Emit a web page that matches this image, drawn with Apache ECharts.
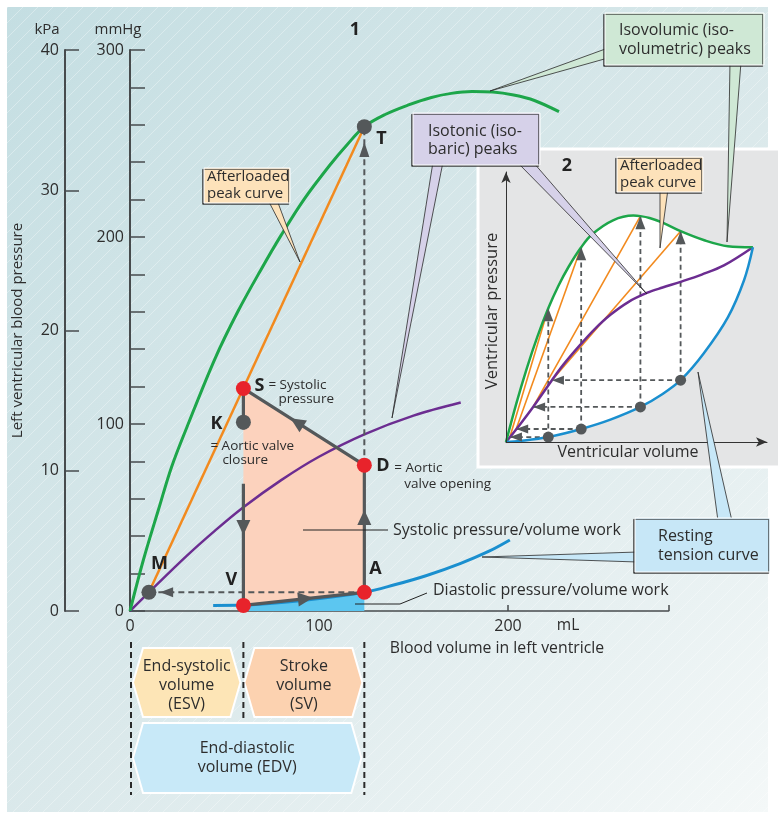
<!DOCTYPE html>
<html>
<head>
<meta charset="utf-8">
<script src="https://cdn.jsdelivr.net/npm/echarts@6/dist/echarts.min.js"></script>
<style>
    *{margin:0;padding:0;}
    body{background:#fff;overflow:hidden;}
    #chart{width:778px;height:817px;}
</style>
</head>
<body>
<div id="chart"></div>
<script>
// ---- panel 1: blood volume (mL) vs pressure (mmHg) ----
const isovolumicPeaks = [[0,0],[7,27],[15,54],[22,77],[30,98],[45,135],[57,160],[69,182],[80,201],[92,220],[105.8,238.5],[115,249.5],[124,259],[135,265.5],[147,270.5],[159,274.5],[170,276.8],[181,277.8],[192,277.5],[203,275.9],[214,273],[227,267]];
const afterloadedPeaks = [[10,10],[124,259]];
const isotonicPeaks = [[0,0],[10,10],[30,29.5],[45,43],[60,55.5],[80,70],[100,82.5],[124,94.5],[150,104.5],[175,111.5]];
const restingTension = [[44,3],[60,3.2],[90,5.5],[124,10],[140,14],[157,19],[175,25.5],[190,32],[201,38]];
const ptV = [60,3], ptA = [124,10], ptD = [124,78], ptS = [60,119];
const ptK = [60,101], ptM = [10,10], ptT = [124,259];
const closureGap = [97,68];          // mmHg where the S-V line is broken
const mmHgTicks = [0,100,200,300];
const kPaTicks = [0,10,20,30,40];
const volumeTicks = [0,100,200];

// ---- panel 2: relative units ----
const insetGreen = [[0,0],[4,15],[8,28.5],[12,40.5],[16.2,51.5],[20,60],[24,67.5],[28.8,75],[33,80],[41,85.4],[48.8,87.2],[51.5,87],[55,86.3],[60,84.5],[66.9,81.2],[76,77.7],[85,75.4],[94.6,75]];
const insetPurple = [[0,0],[5,6.3],[10.4,13.5],[17.6,23.8],[22,29.8],[28.5,37.5],[34,43.5],[40,49],[47,54],[54.2,57.5],[60,59.5],[66.9,61.7],[75,64.5],[83.5,68],[94.6,75]];
const insetBlue = [[0,0],[5.4,0.4],[16.2,1.9],[28.8,5],[40,8.6],[51.5,13.5],[60,18.5],[66.9,23.8],[75.8,34.2],[85,48],[91.2,62.3],[94.6,75]];
const insetDots = [[16.2,1.9],[28.8,5],[51.5,13.5],[66.9,23.8]];
const insetIso = [[1.5,1.9],[3.9,5],[10.4,13.5],[17.6,23.8]];
const insetPeaks = [[16.2,51.5],[28.8,75],[51.5,87],[66.9,81.2]];

const FONT = '"Open Sans", "Noto Sans", sans-serif';
const C = {
    green:'#1da64a', orange:'#f28a1e', purple:'#6c2d91', blue:'#1a8fcf',
    gray:'#54585a', red:'#e8232b', pink:'#fcd2bd', dia:'#5cc6f0', text:'#2d2d2d'
};

// arrowheads: from, to, tip position along the segment
const mainArrows = [
    {from:ptV, to:ptA, tip:0.575, L:15, W:7},
    {from:ptA, to:ptD, tip:0.647, L:15, W:7},
    {from:ptD, to:ptS, tip:0.61, L:15, W:7},
    {from:ptS, to:ptV, tip:0.676, L:15, W:7},
    {from:ptA, to:ptM, tip:0.948, L:13, W:5},
    {from:ptD, to:ptT, tip:0.955, L:15, W:5}
];
const insetArrows = [];
insetDots.forEach((d,i)=>{
    insetArrows.push({from:d, to:insetPeaks[i], tip:1, L:13, W:5});
    insetArrows.push({from:d, to:insetIso[i], tip:1, L:12, W:4.5});
});

function arrowItem(params, api){
    const a = api.coord([api.value(0), api.value(1)]);
    const b = api.coord([api.value(2), api.value(3)]);
    const t = api.value(4), L = api.value(5), W = api.value(6);
    const dx = b[0]-a[0], dy = b[1]-a[1], len = Math.hypot(dx,dy) || 1;
    const ux = dx/len, uy = dy/len;
    const tip = [a[0]+dx*t, a[1]+dy*t];
    const bx = tip[0]-ux*L, by = tip[1]-uy*L;
    return {type:'polygon', shape:{points:[tip,[bx-uy*W, by+ux*W],[bx+uy*W, by-ux*W]]}, style:{fill:C.gray}};
}
function polygonItem(points, fill){
    return function(params, api){
        return {type:'polygon', shape:{points:points.map(p=>api.coord(p))}, style:{fill:fill}};
    };
}
function seg(data, color, width, dash, ax){
    return {type:'line', xAxisIndex:ax[0], yAxisIndex:ax[1], data:data, symbol:'none', silent:true,
        lineStyle:{color:color, width:width, type: dash || 'solid'}};
}
function curve(data, color, width, ax){
    return {type:'line', xAxisIndex:ax[0], yAxisIndex:ax[1], data:data, smooth:0.35, symbol:'none', silent:true,
        lineStyle:{color:color, width:width}};
}
const MAIN = [0,0], INS = [1,2];

const series = [
    {type:'custom', xAxisIndex:0, yAxisIndex:0, z:1, data:[[60,60]], renderItem:polygonItem([ptV,ptA,ptD,ptS], C.pink), silent:true},
    {type:'line', xAxisIndex:0, yAxisIndex:0, z:1, data:restingTension.filter(p=>p[0]>=ptV[0] && p[0]<=ptA[0]),
        smooth:0.35, symbol:'none', lineStyle:{width:0}, areaStyle:{color:C.dia, opacity:1}, silent:true},
    curve(isotonicPeaks, C.purple, 2.5, MAIN),
    seg(afterloadedPeaks, C.orange, 2.5, null, MAIN),
    curve(isovolumicPeaks, C.green, 3, MAIN),
    curve(restingTension, C.blue, 3, MAIN),
    seg([[ptV[0],closureGap[1]], ptV, ptA, ptD, ptS, [ptS[0],closureGap[0]]], C.gray, 3.2, null, MAIN),
    seg([ptA, ptM], C.gray, 2, [6,4], MAIN),
    seg([ptD, ptT], C.gray, 2, [6,4], MAIN),
    {type:'custom', xAxisIndex:0, yAxisIndex:0, z:4, renderItem:arrowItem, silent:true,
        data:mainArrows.map(a=>[a.from[0],a.from[1],a.to[0],a.to[1],a.tip,a.L,a.W])},
    {type:'scatter', xAxisIndex:0, yAxisIndex:0, z:6, data:[ptS,ptD,ptA,ptV], symbolSize:15, itemStyle:{color:C.red, opacity:1}, silent:true},
    {type:'scatter', xAxisIndex:0, yAxisIndex:0, z:6, data:[ptM,ptK,ptT], symbolSize:15, itemStyle:{color:C.gray, opacity:1}, silent:true},

    // inset
    {type:'custom', xAxisIndex:1, yAxisIndex:2, z:1, data:[[50,50]], renderItem:polygonItem(insetGreen.concat(insetBlue.slice().reverse()), '#ffffff'), silent:true}
];
insetIso.forEach((p,i)=>series.push(seg([p, insetPeaks[i]], C.orange, 1.6, null, INS)));
insetDots.forEach((d,i)=>{
    series.push(seg([d, insetPeaks[i]], C.gray, 1.8, [5,3.5], INS));
    series.push(seg([d, insetIso[i]], C.gray, 1.8, [5,3.5], INS));
});
series.push(curve(insetPurple, C.purple, 2.5, INS));
series.push(curve(insetGreen, C.green, 2.5, INS));
series.push(curve(insetBlue, C.blue, 2.5, INS));
series.push({type:'custom', xAxisIndex:1, yAxisIndex:2, z:4, renderItem:arrowItem, silent:true,
    data:insetArrows.map(a=>[a.from[0],a.from[1],a.to[0],a.to[1],a.tip,a.L,a.W])});
series.push({type:'scatter', xAxisIndex:1, yAxisIndex:2, z:6, data:insetDots, symbolSize:11, itemStyle:{color:C.gray, opacity:1}, silent:true});

const axisCol = '#474b4d';
const option = {
    animation:false,
    grid:[
        {left:130, top:50, width:538.6, height:561, outerBoundsMode:'none'},
        {left:506, top:172, width:261, height:270, outerBoundsMode:'none'}
    ],
    xAxis:[
        {gridIndex:0, type:'value', min:0, max:285, interval:100,
            axisLine:{lineStyle:{color:axisCol, width:1.6}},
            axisTick:{inside:true, length:6, lineStyle:{color:axisCol, width:1.5}},
            axisLabel:{fontSize:16, color:C.text, fontFamily:FONT, margin:7,
                formatter:v=>volumeTicks.indexOf(v)>=0 ? String(v) : ''},
            splitLine:{show:false}},
        {gridIndex:1, type:'value', min:0, max:100, z:10,
            axisLine:{symbol:['none','arrow'], symbolSize:[7,11], lineStyle:{color:'#333', width:1}},
            axisTick:{show:false}, axisLabel:{show:false}, splitLine:{show:false}}
    ],
    yAxis:[
        {gridIndex:0, type:'value', min:0, max:300, interval:20, position:'left',
            axisLine:{show:true, lineStyle:{color:axisCol, width:2}},
            axisTick:{show:true, inside:true, length:15, lineStyle:{color:axisCol, width:1.5}},
            axisLabel:{fontSize:16, color:C.text, fontFamily:FONT, margin:6,
                formatter:v=>mmHgTicks.indexOf(v)>=0 ? String(v) : ''},
            splitLine:{show:false}},
        {gridIndex:0, type:'value', min:0, max:40, interval:10, position:'left', offset:65,
            name:'Left ventricular blood pressure', nameLocation:'middle', nameGap:40, nameRotate:90,
            nameTextStyle:{fontSize:15, color:C.text, fontFamily:FONT},
            axisLine:{show:true, lineStyle:{color:axisCol, width:2}},
            axisTick:{show:true, inside:true, length:14, lineStyle:{color:axisCol, width:1.5}},
            axisLabel:{fontSize:16, color:C.text, fontFamily:FONT, margin:6,
                formatter:v=>kPaTicks.indexOf(v)>=0 ? String(v) : ''},
            splitLine:{show:false}},
        {gridIndex:1, type:'value', min:0, max:104, z:10,
            axisLine:{show:true, symbol:['none','arrow'], symbolSize:[7,11], lineStyle:{color:'#333', width:1}},
            axisTick:{show:false}, axisLabel:{show:false}, splitLine:{show:false}}
    ],
    series:series
};

const chart = echarts.init(document.getElementById('chart'));
chart.setOption(option);

// ---- annotations ----
const P = p => chart.convertToPixel({xAxisIndex:0, yAxisIndex:0}, p);

function txt(x, y, s, size, opt){
    return {type:'text', x:x, y:y, z:100, silent:true,
        style:Object.assign({text:s, font:size+'px '+FONT, fill:C.text,
            textAlign:'left', textVerticalAlign:'middle', align:'left', verticalAlign:'middle'}, opt||{})};
}
function ctxt(x, y, s, size){
    return txt(x, y, s, size, {textAlign:'center', align:'center'});
}
function bold(x, y, s, size, align){
    return txt(x, y, s, size, {font:'bold '+size+'px '+FONT, fill:'#222',
        textAlign:align||'left', align:align||'left'});
}
function box(x, y, w, h, fill){
    return {type:'rect', z:52, silent:true, shape:{x:x, y:y, width:w, height:h},
        style:{fill:fill, stroke:'#ffffff', lineWidth:1, shadowColor:'rgba(40,40,40,0.75)', shadowOffsetX:-1.3, shadowOffsetY:1.3, shadowBlur:0}};
}
function wedge(b1, b2, tip, fill){
    return {type:'polygon', z:50, silent:true, shape:{points:[b1, tip, b2]},
        style:{fill:fill, stroke:'#2a2a2a', lineWidth:0.8}};
}
function hexShape(x0, x1, y0, y1, fill){
    const ym = (y0+y1)/2, k = 10;
    return {type:'polygon', z:20, silent:true,
        shape:{points:[[x0,ym],[x0+k,y0],[x1-k,y0],[x1,ym],[x1-k,y1],[x0+k,y1]]},
        style:{fill:fill, stroke:'#ffffff', lineWidth:2}};
}
function vdash(x, y0, y1){
    return {type:'line', z:21, silent:true, shape:{x1:x, y1:y0, x2:x, y2:y1},
        style:{stroke:'#2a2a2a', lineWidth:2, lineDash:[6,4]}};
}

const hatch = document.createElement('canvas');
hatch.width = 15; hatch.height = 15;
const hc = hatch.getContext('2d');
hc.strokeStyle = 'rgba(255,255,255,0.32)';
hc.lineWidth = 1;
hc.beginPath(); hc.moveTo(-1,16); hc.lineTo(16,-1); hc.stroke();

const pS = P(ptS), pK = P(ptK), pD = P(ptD), pT = P(ptT), pM = P(ptM), pV = P(ptV), pA = P(ptA), p0 = P([0,0]);
const boxGreen = '#cfe8d5', boxPurple = '#d6d1e9', boxOrange = '#fde2ba', boxBlue = '#c7e7f7';

const g = [
    {type:'rect', z:-20, silent:true, shape:{x:7, y:7, width:761, height:805},
        style:{fill:new echarts.graphic.LinearGradient(0,0,1,1,[
            {offset:0, color:'#c4dee2'},{offset:0.55, color:'#dbe9eb'},{offset:1, color:'#f4f8f8'}])}},
    {type:'rect', z:-19, silent:true, shape:{x:7, y:7, width:761, height:805},
        style:{fill:{image:hatch, repeat:'repeat'}}},
    {type:'rect', z:-10, silent:true, shape:{x:478, y:149, width:302, height:318},
        style:{fill:'#e4e5e6', stroke:'#ffffff', lineWidth:3}},

    // axis units and panel numbers
    ctxt(47, 30, 'kPa', 15),
    ctxt(118, 30, 'mmHg', 15),
    bold(355, 30, '1', 18, 'center'),
    bold(567, 166, '2', 18, 'center'),
    ctxt(568, 626, 'mL', 15.5),
    ctxt(497, 648, 'Blood volume in left ventricle', 15.8),

    // point labels
    bold(pS[0]+11, pS[1]-3, 'S', 18),
    txt(pS[0]+25, pS[1]-3, '= Systolic', 13.5),
    txt(pS[0]+35, pS[1]+11, 'pressure', 13.5),
    bold(pK[0]-21, pK[1]+2, 'K', 18, 'right'),
    txt(pK[0]-33, pK[1]+24, '= Aortic valve', 13.5),
    txt(pK[0]-21, pK[1]+38, 'closure', 13.5),
    bold(pD[0]+12, pD[1]+1, 'D', 18),
    txt(pD[0]+30, pD[1]+3, '= Aortic', 13.5),
    txt(pD[0]+40, pD[1]+19, 'valve opening', 13.5),
    bold(pT[0]+12, pT[1]+12, 'T', 18),
    bold(pM[0]+2, pM[1]-28, 'M', 18),
    bold(pV[0]-12, pV[1]-26, 'V', 18, 'center'),
    bold(pA[0]+11, pA[1]-23, 'A', 18, 'center'),

    // work labels
    {type:'polyline', z:60, silent:true, shape:{points:[[303,530],[388,530]]}, style:{stroke:'#222', lineWidth:1}},
    txt(393, 530, 'Systolic pressure/volume work', 16),
    {type:'polyline', z:60, silent:true, shape:{points:[[355,604],[400,604],[427,593]]}, style:{stroke:'#222', lineWidth:1, fill:null}},
    txt(433, 590, 'Diastolic pressure/volume work', 16),

    // callouts
    wedge([608,48],[608,58],[490,91], boxGreen),
    wedge([730,62],[741,62],[727,242], boxGreen),
    box(605, 13, 159, 52, boxGreen),
    txt(619, 30, 'Isovolumic (iso-', 16),
    txt(619, 49, 'volumetric) peaks', 16),

    wedge([433,162],[443,162],[392,418], boxPurple),
    wedge([517,162],[533,162],[647,294], boxPurple),
    box(413, 113, 127, 52, boxPurple),
    txt(428, 131, 'Isotonic (iso-', 16),
    txt(428, 149, 'baric) peaks', 16),

    wedge([268,200],[277,200],[300,262], boxOrange),
    box(204, 168, 86, 35, boxOrange),
    txt(207, 177, 'Afterloaded', 15),
    txt(207, 194, 'peak curve', 15),

    wedge([660,189],[668,189],[660,248], boxOrange),
    box(617, 157, 86, 35, boxOrange),
    txt(620, 166, 'Afterloaded', 15),
    txt(620, 183, 'peak curve', 15),

    wedge([638,552],[638,562],[482,557], boxBlue),
    wedge([718,521],[732,521],[698,372], boxBlue),
    box(635, 518, 135, 54, boxBlue),
    txt(658, 536, 'Resting', 16),
    txt(658, 555, 'tension curve', 16),

    // inset axis titles
    {type:'text', x:492, y:311, rotation:Math.PI/2, z:100, silent:true,
        style:{text:'Ventricular pressure', font:'16.5px '+FONT, fill:C.text, textAlign:'center', textVerticalAlign:'middle', align:'center', verticalAlign:'middle'}},
    ctxt(628, 452, 'Ventricular volume', 16),

    // volume bars
    vdash(p0[0]+1, 642, 795),
    vdash(pV[0], 642, 720),
    vdash(pA[0], 642, 795),
    hexShape(p0[0]+3, pV[0]-3, 648, 717, '#fde5b6'),
    hexShape(pV[0]+1, pA[0]-2, 648, 717, '#fcd2b0'),
    hexShape(p0[0]+3, pA[0]-3, 723, 793, '#c8e9f8'),
    ctxt((p0[0]+pV[0])/2, 666, 'End-systolic', 16),
    ctxt((p0[0]+pV[0])/2, 685, 'volume', 16),
    ctxt((p0[0]+pV[0])/2, 704, '(ESV)', 16),
    ctxt((pV[0]+pA[0])/2, 666, 'Stroke', 16),
    ctxt((pV[0]+pA[0])/2, 685, 'volume', 16),
    ctxt((pV[0]+pA[0])/2, 704, '(SV)', 16),
    ctxt((p0[0]+pA[0])/2, 748, 'End-diastolic', 16),
    ctxt((p0[0]+pA[0])/2, 767, 'volume (EDV)', 16)
];

chart.setOption({graphic:{elements:g}});
</script>
</body>
</html>
